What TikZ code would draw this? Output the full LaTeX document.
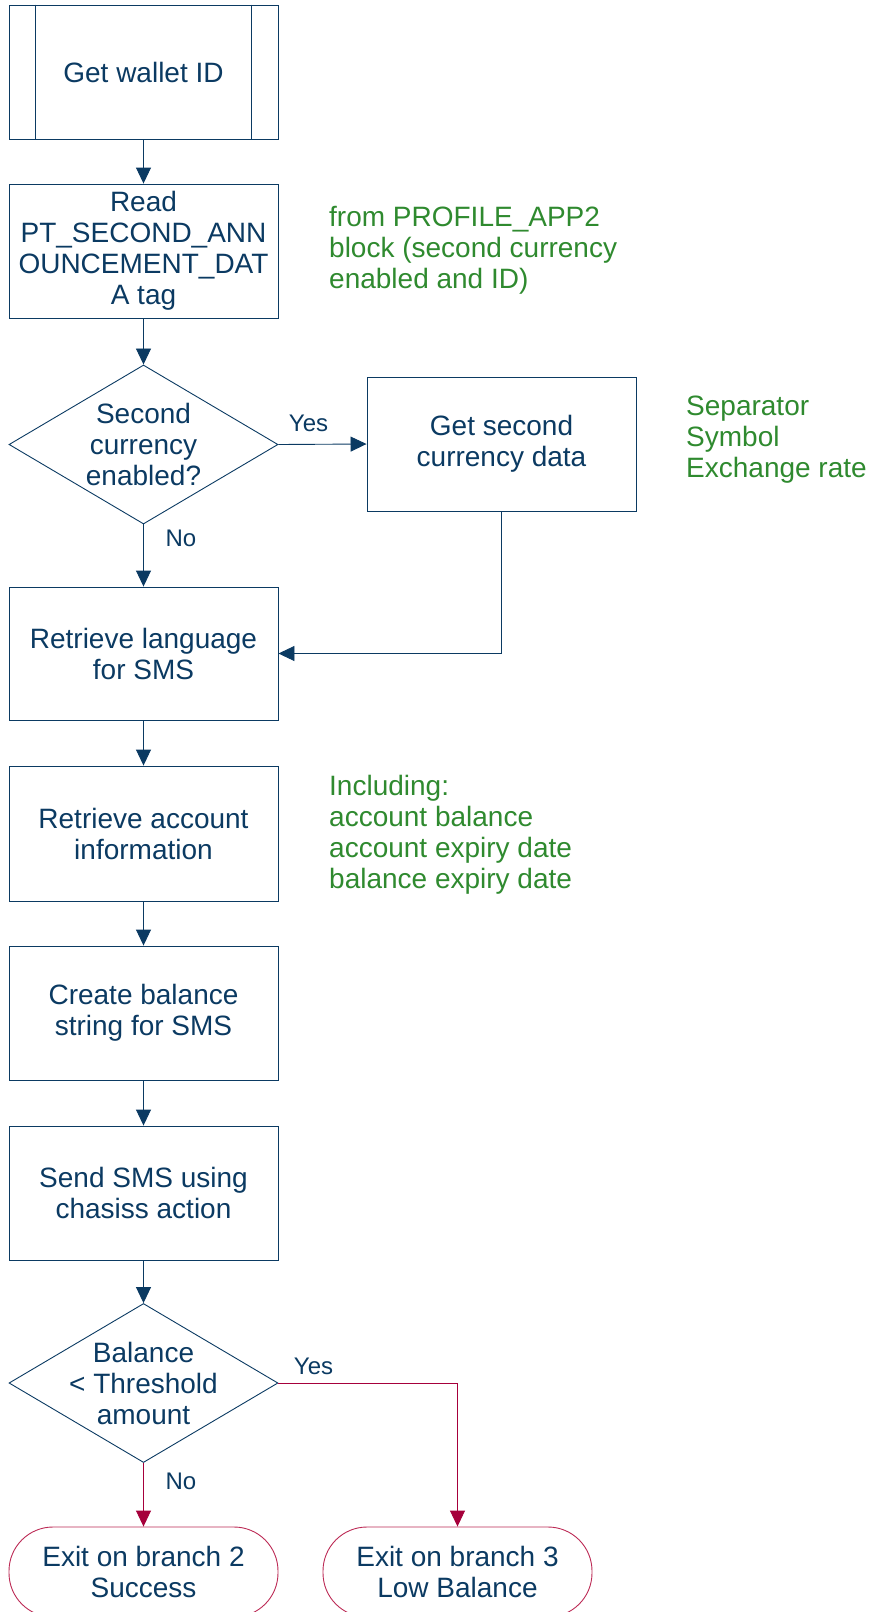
\documentclass[tikz,border=0pt]{standalone}
\usepackage{fontspec}
\setmainfont{Liberation Sans}
\usetikzlibrary{arrows.meta,shapes.geometric,calc}
\definecolor{navy}{HTML}{0B3A62}
\definecolor{crim}{HTML}{A6003B}
\definecolor{termc}{HTML}{BC2A55}
\definecolor{note}{HTML}{2F8A2F}
\begin{document}
\begin{tikzpicture}[x=1pt,y=-1pt,
  every node/.style={font=\fontsize{28}{31}\selectfont, text=navy},
  procbox/.style={draw=navy, line width=0.9pt, rectangle, minimum width=269pt, minimum height=134pt, align=center, inner sep=0pt},
  decbox/.style={draw=navy, line width=0.9pt, diamond, minimum width=269pt, minimum height=159pt, inner sep=0pt},
  termbox/.style={draw=termc, line width=0.9pt, rectangle, rounded corners=44pt, minimum width=269pt, minimum height=90pt, align=center, inner sep=0pt},
  flow/.style={draw=navy, line width=0.9pt, -{Triangle[length=16pt,width=15pt]}},
  rflow/.style={draw=crim, line width=0.9pt, -{Triangle[length=16pt,width=15pt]}},
  notetext/.style={text=note, align=left, anchor=west, inner sep=0pt},
  lbl/.style={font=\fontsize{24}{28}\selectfont, inner sep=0pt}]
\useasboundingbox (0,0) rectangle (869,1612);
\clip (0,0) rectangle (869,1612);

\node[procbox] (gw) at (143.5,72) {Get wallet ID};
\draw[navy, line width=0.9pt] ($(gw.north west)+(27,0)$) -- ($(gw.south west)+(27,0)$);
\draw[navy, line width=0.9pt] ($(gw.north east)+(-27,0)$) -- ($(gw.south east)+(-27,0)$);

\node[procbox] (rd) at (143.5,251) {Read\\PT\_SECOND\_ANN\\OUNCEMENT\_DAT\\A tag};
\node[decbox] (d1) at (143.5,444.5) {};
\node[align=center, inner sep=0pt] (d1t) at (d1.center) {Second\\currency\\enabled?};
\node[procbox] (sc) at (501.5,444) {Get second\\currency data};
\node[procbox, minimum height=133pt] (rl) at (143.5,653.5) {Retrieve language\\for SMS};
\node[procbox, minimum height=135pt] (ra) at (143.5,833.5) {Retrieve account\\information};
\node[procbox] (cb) at (143.5,1013) {Create balance\\string for SMS};
\node[procbox] (ss) at (143.5,1193) {Send SMS using\\chasiss action};
\node[decbox] (d2) at (143.5,1383) {};
\node[align=center, inner sep=0pt] (d2t) at (d2.center) {Balance\\< Threshold\\amount};
\node[termbox] (e2) at (143.5,1572) {Exit on branch 2\\Success};
\node[termbox] (e3) at (457.5,1572) {Exit on branch 3\\Low Balance};

\node[notetext] (n1) at (329,250) {from PROFILE\_APP2\\block (second currency\\enabled and ID)};
\node[notetext] (n2) at (686,440) {Separator\\Symbol\\Exchange rate};
\node[notetext] (n3) at (329,834.5) {Including:\\account balance\\account expiry date\\balance expiry date};

\draw[flow] (gw) -- (rd);
\draw[flow] (rd) -- (d1);
\draw[flow] (d1.east) -- (sc.west);
\draw[flow] (d1.south) -- (rl.north);
\draw[flow] (sc.south) |- (rl.east);
\draw[flow] (rl) -- (ra);
\draw[flow] (ra) -- (cb);
\draw[flow] (cb) -- (ss);
\draw[flow] (ss) -- (d2.north);
\draw[rflow] (d2.south) -- (e2.north);
\draw[rflow] (d2.east) -| (e3.north);

\node[lbl] (y1) at (308.5,423) {Yes};
\node[lbl] (no1) at (181,538) {No};
\node[lbl] (y2) at (313.5,1366) {Yes};
\node[lbl] (no2) at (181,1481) {No};
\end{tikzpicture}
\end{document}
